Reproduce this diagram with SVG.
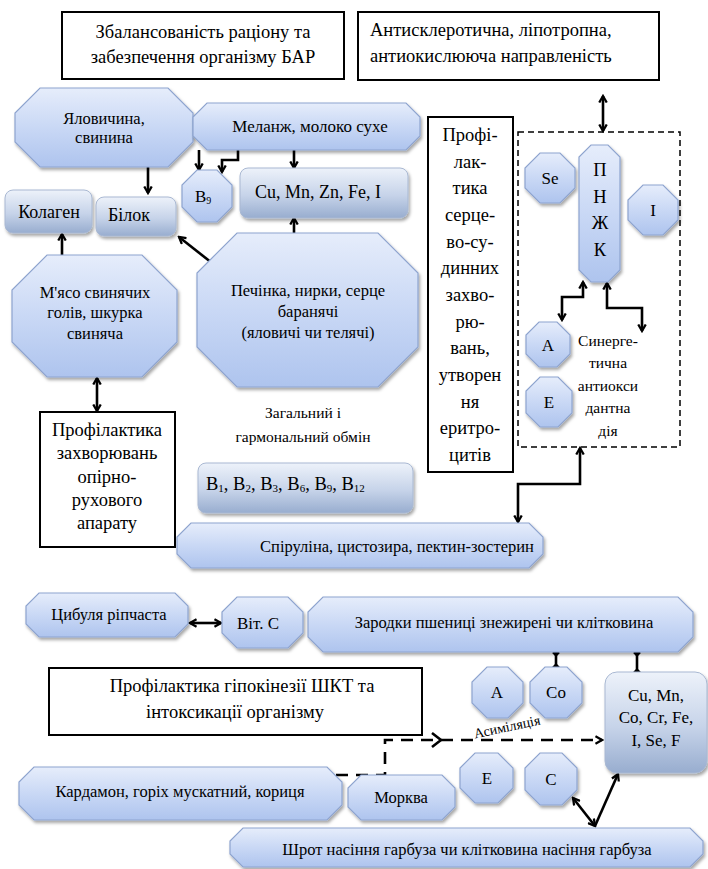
<svg xmlns="http://www.w3.org/2000/svg" width="708" height="869" viewBox="0 0 708 869" font-family="Liberation Serif">
<style>
text{fill:#000;dominant-baseline:central}
.c{text-anchor:middle}
.f16{font-size:16.5px}
.f18{font-size:18.5px}
.f15{font-size:15.5px}
.oct{fill:url(#gOct);stroke:#8ea4cf;stroke-width:1.2;filter:url(#sh)}
.rr{fill:url(#gRR);stroke:#a9b8d2;stroke-width:1;filter:url(#sh)}
.box{fill:#fff;stroke:#000;stroke-width:2}
.con{fill:none;stroke:#000;stroke-width:2.6}
.arr{marker-end:url(#ah)}
.arr2{marker-start:url(#ah);marker-end:url(#ah)}
</style>
<defs>
<linearGradient id="gOct" x1="0" y1="0" x2="0" y2="1">
<stop offset="0" stop-color="#e6edfb"/>
<stop offset="0.5" stop-color="#c9d8f5"/>
<stop offset="1" stop-color="#aec4ee"/>
</linearGradient>
<linearGradient id="gRR" x1="0" y1="0" x2="0" y2="1">
<stop offset="0" stop-color="#edf2fa"/>
<stop offset="0.55" stop-color="#c6d3e9"/>
<stop offset="1" stop-color="#98adcf"/>
</linearGradient>
<filter id="sh" x="-10%" y="-10%" width="130%" height="140%">
<feDropShadow dx="1.5" dy="2.5" stdDeviation="1.6" flood-color="#000" flood-opacity="0.35"/>
</filter>
<marker id="ah" viewBox="0 0 10 10" refX="8" refY="5" markerWidth="3.6" markerHeight="3.6" orient="auto-start-reverse" markerUnits="strokeWidth">
<path d="M1,1 L8,5 L1,9" fill="none" stroke="#000" stroke-width="2.4"/>
</marker>
<marker id="dm" viewBox="0 0 10 10" refX="5" refY="5" markerWidth="3" markerHeight="3" orient="auto" markerUnits="strokeWidth">
<path d="M5,0 L10,5 L5,10 L0,5 Z" fill="#000"/>
</marker>
</defs>
<rect width="708" height="869" fill="#fff"/>

<g id="connectors" font-family="Liberation Serif">
<path class="con arr" d="M148,167 V193"/>
<path class="con arr" d="M199,150 V170"/>
<path class="con arr" d="M238,150 V160 H222 V172"/>
<path class="con arr" d="M294,150 V168"/>
<path class="con arr" d="M294,233 V218"/>
<path class="con arr" d="M212,263 L179,237"/>
<path class="con arr" d="M62,255 V234"/>
<path class="con arr2" d="M97,378 V411"/>
<path class="con arr2" d="M603,96 V131"/>
<path class="con arr2" d="M583,282 V297 H562 V320"/>
<path class="con arr2" d="M607,283 V308 H642 V331"/>
<path class="con arr2" d="M580,448 V484 H518 V522"/>
<path class="con arr2" d="M190,623 H221"/>
<path class="con" d="M556,653 V667" marker-start="url(#dm)" marker-end="url(#dm)"/>
<path class="con" d="M637,653 V672" marker-start="url(#dm)" marker-end="url(#dm)"/>
<path class="con arr" d="M336,775 H385 V740 H602" stroke-dasharray="12,8"/>
<path class="con" d="M432,733 L441,740 L432,747"/>
<path class="con arr2" d="M595,826 L573,798"/>
<path class="con arr" d="M595,826 L618,774"/>
<text x="507" y="727" font-size="14" class="c" transform="rotate(-12 507 727)">Асиміляція</text>
</g>

<g id="box-balance" font-family="Liberation Serif">
<rect class="box" x="62" y="12" width="282" height="67"/>
<text class="c f18" x="203" y="32">Збалансованість раціону та</text>
<text class="c f18" x="203" y="57">забезпечення організму БАР</text>
</g>
<g id="box-antiscl" font-family="Liberation Serif">
<rect class="box" x="358" y="12" width="301" height="68"/>
<text class="f18" x="370" y="30">Антисклеротична, ліпотропна,</text>
<text class="f18" x="370" y="56">антиокислююча направленість</text>
</g>

<g id="n-yalovychyna" font-family="Liberation Serif">
<path class="oct" d="M40,88 H168 L193,113 V142 L168,167 H40 L15,142 V113 Z"/>
<text class="c f16" x="104" y="118">Яловичина,</text>
<text class="c f16" x="104" y="137">свинина</text>
</g>
<g id="n-melanzh" font-family="Liberation Serif">
<path class="oct" d="M207,103 H406 L420,117 V136 L406,150 H207 L193,136 V117 Z"/>
<text class="c" font-size="17" x="310" y="126">Меланж, молоко сухе</text>
</g>
<g id="n-b9" font-family="Liberation Serif">
<path class="oct" d="M197,170 H217 L232,185 V207 L217,222 H197 L182,207 V185 Z"/>
<text font-size="17" x="195" y="196">B<tspan font-size="10" dy="4">9</tspan></text>
</g>
<g id="n-cumn" font-family="Liberation Serif">
<rect class="rr" x="240" y="168" width="168" height="50" rx="8"/>
<text class="c" font-size="18" x="318" y="192">Cu, Mn, Zn, Fe, I</text>
</g>
<g id="n-kolagen" font-family="Liberation Serif">
<rect class="rr" x="5" y="190" width="87" height="43" rx="8"/>
<text class="c" font-size="18" x="49" y="212">Колаген</text>
</g>
<g id="n-bilok" font-family="Liberation Serif">
<rect class="rr" x="96" y="197" width="80" height="39" rx="8"/>
<text font-size="18" x="108" y="215">Білок</text>
</g>
<g id="n-myaso" font-family="Liberation Serif">
<path class="oct" d="M47,255 H142 L177,290 V342 L142,377 H47 L12,342 V290 Z"/>
<text class="c f16" x="95" y="292">М'ясо свинячих</text>
<text class="c f16" x="95" y="312">голів, шкурка</text>
<text class="c f16" x="95" y="333">свиняча</text>
</g>
<g id="n-pechinka" font-family="Liberation Serif">
<path class="oct" d="M237,233 H378 L418,273 V347 L378,387 H237 L197,347 V273 Z"/>
<text class="c f16" x="308" y="290">Печінка, нирки, серце</text>
<text class="c f16" x="308" y="311">баранячі</text>
<text class="c f16" x="308" y="332">(яловичі чи телячі)</text>
</g>
<g id="box-oporno" font-family="Liberation Serif">
<rect class="box" x="40" y="412" width="135" height="135"/>
<text class="c f18" x="107" y="430">Профілактика</text>
<text class="c f18" x="107" y="453">захворювань</text>
<text class="c f18" x="107" y="477">опірно-</text>
<text class="c f18" x="107" y="500">рухового</text>
<text class="c f18" x="107" y="523">апарату</text>
</g>
<g id="label-obmin" font-family="Liberation Serif">
<text class="c f15" x="303" y="412">Загальний і</text>
<text class="c f15" x="303" y="436">гармональний обмін</text>
</g>
<g id="n-bvit" font-family="Liberation Serif">
<rect class="rr" x="198" y="463" width="215" height="50" rx="8"/>
<text font-size="18.5" x="206" y="484">B<tspan font-size="11" dy="4">1</tspan><tspan dy="-4">, B</tspan><tspan font-size="11" dy="4">2</tspan><tspan dy="-4">, B</tspan><tspan font-size="11" dy="4">3</tspan><tspan dy="-4">, B</tspan><tspan font-size="11" dy="4">6</tspan><tspan dy="-4">, B</tspan><tspan font-size="11" dy="4">9</tspan><tspan dy="-4">, B</tspan><tspan font-size="11" dy="4">12</tspan></text>
</g>
<g id="box-sertse" font-family="Liberation Serif">
<rect class="box" x="428" y="117" width="85" height="355"/>
<text class="c f18" x="470" y="135">Профі-</text>
<text class="c f18" x="470" y="161.7">лак-</text>
<text class="c f18" x="470" y="188.3">тика</text>
<text class="c f18" x="470" y="215">серце-</text>
<text class="c f18" x="470" y="241.7">во-су-</text>
<text class="c f18" x="470" y="268.3">динних</text>
<text class="c f18" x="470" y="295">захво-</text>
<text class="c f18" x="470" y="321.7">рю-</text>
<text class="c f18" x="470" y="348.3">вань,</text>
<text class="c f18" x="470" y="375">утворен</text>
<text class="c f18" x="470" y="401.7">ня</text>
<text class="c f18" x="470" y="428.3">еритро-</text>
<text class="c f18" x="470" y="455">цитів</text>
</g>
<g id="group-pnzhk" font-family="Liberation Serif">
<rect x="518" y="132" width="162" height="315" fill="none" stroke="#000" stroke-width="1.5" stroke-dasharray="6,4"/>
<text class="c f15" x="608" y="340">Синерге-</text>
<text class="c f15" x="608" y="362.5">тична</text>
<text class="c f15" x="608" y="385">антиокси</text>
<text class="c f15" x="608" y="407.5">дантна</text>
<text class="c f15" x="608" y="430">дія</text>
</g>
<g id="n-se" font-family="Liberation Serif">
<path class="oct" d="M540,153 H560 L575,168 V188 L560,203 H540 L525,188 V168 Z"/>
<text class="c" font-size="17" x="550" y="178">Se</text>
</g>
<g id="n-pnzhk" font-family="Liberation Serif">
<path class="oct" d="M591,145 H608 L620,157 V270 L608,282 H591 L579,270 V157 Z"/>
<text class="c f18" x="600" y="170">П</text>
<text class="c f18" x="600" y="196.7">Н</text>
<text class="c f18" x="600" y="223.3">Ж</text>
<text class="c f18" x="600" y="250">К</text>
</g>
<g id="n-i" font-family="Liberation Serif">
<path class="oct" d="M643,185 H663 L678,200 V220 L663,235 H643 L628,220 V200 Z"/>
<text class="c" font-size="17" x="653" y="210">I</text>
</g>
<g id="n-a1" font-family="Liberation Serif">
<path class="oct" d="M539,322 H557 L570,335 V354 L557,367 H539 L526,354 V335 Z"/>
<text class="c" font-size="17" x="548" y="345">A</text>
</g>
<g id="n-e1" font-family="Liberation Serif">
<path class="oct" d="M540,377 H558 L572,391 V413 L558,427 H540 L526,413 V391 Z"/>
<text class="c" font-size="17" x="549" y="402">E</text>
</g>
<g id="n-spirulina" font-family="Liberation Serif">
<path class="oct" d="M191,523 H529 L543,537 V554 L529,568 H191 L177,554 V537 Z"/>
<text class="c f16" x="397" y="546">Спіруліна, цистозира, пектин-зостерин</text>
</g>
<g id="n-tsybulya" font-family="Liberation Serif">
<path class="oct" d="M39,593 H175 L188,606 V624 L175,637 H39 L26,624 V606 Z"/>
<text class="c f16" x="109" y="614">Цибуля ріпчаста</text>
</g>
<g id="n-vitc" font-family="Liberation Serif">
<path class="oct" d="M237,597 H288 L303,612 V633 L288,648 H237 L222,633 V612 Z"/>
<text class="c" font-size="17" x="258" y="623">Віт. С</text>
</g>
<g id="n-zarodky" font-family="Liberation Serif">
<path class="oct" d="M323,597 H678 L693,612 V637 L678,652 H323 L308,637 V612 Z"/>
<text class="c f16" x="504" y="622">Зародки пшениці знежирені чи клітковина</text>
</g>
<g id="box-shkt" font-family="Liberation Serif">
<rect class="box" x="49" y="668" width="373" height="67"/>
<text class="c f18" x="242" y="686">Профілактика гіпокінезії ШКТ та</text>
<text class="c f18" x="235" y="712">інтоксикації організму</text>
</g>
<g id="n-a2" font-family="Liberation Serif">
<path class="oct" d="M487,667 H508 L523,682 V703 L508,718 H487 L472,703 V682 Z"/>
<text class="c" font-size="17" x="497" y="692">A</text>
</g>
<g id="n-co" font-family="Liberation Serif">
<path class="oct" d="M545,667 H567 L582,682 V703 L567,718 H545 L530,703 V682 Z"/>
<text class="c" font-size="17" x="556" y="692">Co</text>
</g>
<g id="n-microel" font-family="Liberation Serif">
<rect class="rr" x="605" y="672" width="102" height="101" rx="12"/>
<text class="c" font-size="17" x="656" y="695">Cu, Mn,</text>
<text class="c" font-size="17" x="656" y="717">Co, Cr, Fe,</text>
<text class="c" font-size="17" x="656" y="740">I, Se, F</text>
</g>
<g id="n-e2" font-family="Liberation Serif">
<path class="oct" d="M475,753 H498 L513,768 V788 L498,803 H475 L460,788 V768 Z"/>
<text class="c" font-size="17" x="487" y="778">E</text>
</g>
<g id="n-c" font-family="Liberation Serif">
<path class="oct" d="M540,753 H562 L577,768 V790 L562,805 H540 L525,790 V768 Z"/>
<text class="c" font-size="17" x="551" y="779">C</text>
</g>
<g id="n-kardamon" font-family="Liberation Serif">
<path class="oct" d="M34,767 H327 L342,782 V805 L327,820 H34 L19,805 V782 Z"/>
<text class="c f16" x="180" y="791">Кардамон, горіх мускатний, кориця</text>
</g>
<g id="n-morkva" font-family="Liberation Serif">
<path class="oct" d="M361,775 H442 L455,788 V807 L442,820 H361 L348,807 V788 Z"/>
<text class="c f16" x="401" y="797">Морква</text>
</g>
<g id="n-shrot" font-family="Liberation Serif">
<path class="oct" d="M243,828 H690 L703,841 V854 L690,867 H243 L230,854 V841 Z"/>
<text class="c f16" x="467" y="849">Шрот насіння гарбуза чи клітковина насіння гарбуза</text>
</g>
</svg>
